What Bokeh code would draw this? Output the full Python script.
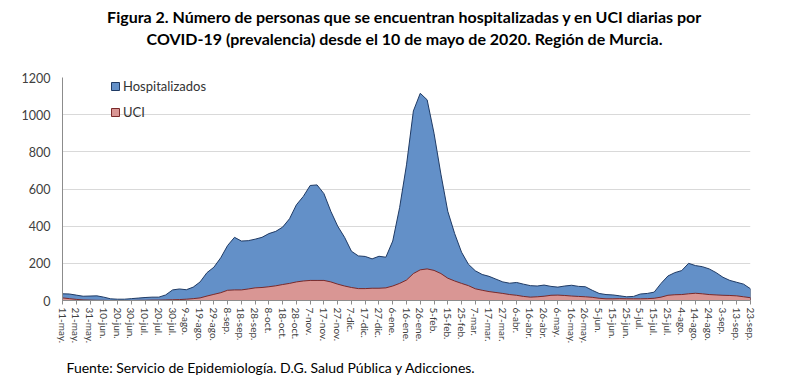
import pandas as pd
from bokeh.plotting import figure
from bokeh.models import Range1d, FixedTicker, Legend, LegendItem, Title
from bokeh.embed import file_html
from bokeh.resources import INLINE

# ---- data (every 5 days from 11-may-2020) ----
fechas = pd.date_range("2020-05-11", periods=101, freq="5D")
hospitalizados = [
    36, 35, 29, 23, 24, 25, 18, 9, 7, 7,
    10, 13, 16, 18, 18, 30, 57, 62, 58, 72,
    100, 150, 179, 230, 296, 340, 320, 322, 330, 340,
    360, 372, 395, 440, 515, 560, 619, 622, 575, 480,
    400, 340, 265, 240, 237, 224, 238, 233, 320, 500,
    730, 1020, 1115, 1080, 900, 680, 480, 360, 260, 195,
    160, 140, 130, 115, 100, 93, 97, 88, 80, 78,
    83, 76, 72, 78, 82, 76, 74, 55, 38, 32,
    30, 25, 20, 22, 35, 38, 45, 92, 132, 150,
    161, 200, 188, 182, 170, 150, 125, 108, 98, 88,
    63,
]
uci = [
    14, 10, 6, 3, 2, 1, 1, 0, 0, 0,
    0, 1, 1, 2, 2, 3, 4, 5, 7, 10,
    14, 24, 33, 42, 55, 57, 57, 62, 68, 70,
    74, 79, 86, 92, 100, 105, 108, 108, 108, 100,
    88, 78, 70, 64, 64, 66, 66, 68, 78, 92,
    110, 145, 165, 170, 162, 145, 120, 105, 92, 80,
    63, 55, 48, 43, 38, 32, 28, 22, 18, 20,
    23, 28, 29, 27, 24, 22, 20, 17, 12, 9,
    9, 10, 9, 9, 9, 10, 12, 18, 28, 31,
    32, 36, 39, 36, 32, 30, 28, 27, 25, 20,
    15,
]
fechas_ticks = pd.date_range("2020-05-11", periods=51, freq="10D")
etiquetas = [
    "11-may.", "21-may.", "31-may.", "10-jun.", "20-jun.", "30-jun.", "10-jul.",
    "20-jul.", "30-jul.", "9-ago.", "19-ago.", "29-ago.", "8-sep.", "18-sep.",
    "28-sep.", "8-oct.", "18-oct.", "28-oct.", "7-nov.", "17-nov.", "27-nov.",
    "7-dic.", "17-dic.", "27-dic.", "6-ene.", "16-ene.", "26-ene.", "5-feb.",
    "15-feb.", "25-feb.", "7-mar.", "17-mar.", "27-mar.", "6-abr.", "16-abr.",
    "26-abr.", "6-may.", "16-may.", "26-may.", "5-jun.", "15-jun.", "25-jun.",
    "5-jul.", "15-jul.", "25-jul.", "4-ago.", "14-ago.", "24-ago.", "3-sep.",
    "13-sep.", "23-sep.",
]
y_ticks = [0, 200, 400, 600, 800, 1000, 1200]

titulo1 = "Figura 2. Número de personas que se encuentran hospitalizadas  y en UCI diarias por"
titulo2 = "COVID-19 (prevalencia)  desde el 10 de mayo de 2020. Región de Murcia."
fuente = "Fuente: Servicio de Epidemiología. D.G. Salud Pública y Adicciones."

# ---- derived ----
inicio = fechas[0]
dias = list((fechas - inicio).days)
dias_ticks = list((fechas_ticks - inicio).days)

FONT = "Lato"

p = figure(width=792, height=380, output_backend="svg", toolbar_location=None,
           x_range=Range1d(0, dias[-1]), y_range=Range1d(0, 1200),
           min_border_left=62, min_border_right=42, min_border_top=77,
           min_border_bottom=80)
p.outline_line_color = None
p.background_fill_color = "white"

xs = [dias[0]] + dias + [dias[-1]]
r_h = p.patch(xs, [0] + hospitalizados + [0], fill_color="#6390C8",
              line_color="#1F3A64", line_width=1)
r_u = p.patch(xs, [0] + uci + [0], fill_color="#D99694",
              line_color="#7A2A2A", line_width=1)

# axes
p.xaxis.ticker = FixedTicker(ticks=dias_ticks)
p.xaxis.major_label_overrides = {d: e for d, e in zip(dias_ticks, etiquetas)}
p.xaxis.major_label_orientation = "vertical"
p.xaxis.major_label_text_font = FONT
p.xaxis.major_label_text_font_size = "10px"
p.xaxis.major_label_text_color = "#404040"
p.xaxis.major_label_standoff = 3
p.xaxis.major_tick_in = 0
p.xaxis.major_tick_out = 4
p.xaxis.minor_tick_line_color = None
p.xaxis.axis_line_color = "#8C8C8C"
p.xaxis.major_tick_line_color = "#8C8C8C"

p.yaxis.ticker = FixedTicker(ticks=y_ticks)
p.yaxis.major_label_text_font = FONT
p.yaxis.major_label_text_font_size = "12.5px"
p.yaxis.major_label_text_color = "#404040"
p.yaxis.major_tick_in = 0
p.yaxis.major_tick_out = 0
p.yaxis.minor_tick_line_color = None
p.yaxis.major_label_standoff = 12
p.yaxis.axis_line_color = "#8C8C8C"

p.xgrid.grid_line_color = None
p.ygrid.grid_line_color = "#D9D9D9"
p.ygrid.ticker = FixedTicker(ticks=y_ticks)

legend = Legend(items=[LegendItem(label="Hospitalizados", renderers=[r_h]),
                       LegendItem(label="UCI", renderers=[r_u])],
                location=(48, 180), orientation="vertical",
                label_text_font=FONT, label_text_font_size="13px",
                label_text_color="#333333", glyph_width=10, glyph_height=10,
                label_height=14, spacing=10, padding=0, margin=0,
                label_standoff=3, border_line_color=None,
                background_fill_alpha=0)
p.add_layout(legend)

# titles above (panels stack outward from the frame; first added = nearest)
p.add_layout(Title(text=" ", text_font_size="1px", standoff=26), "above")  # spacer
p.add_layout(Title(text=titulo2, align="center", text_font=FONT,
                   text_font_style="bold", text_font_size="16px",
                   text_color="#000000", standoff=1), "above")
p.add_layout(Title(text=titulo1, align="center", text_font=FONT,
                   text_font_style="bold", text_font_size="16px",
                   text_color="#000000", standoff=1), "above")
# source below the axis
p.add_layout(Title(text=" ", text_font_size="1px", standoff=5), "below")  # spacer
p.add_layout(Title(text=fuente, align="left", text_font=FONT,
                   text_font_style="normal", text_font_size="14px",
                   text_color="#000000", offset=4, standoff=4), "below")

open("out.html", "w").write(file_html(p, INLINE))
